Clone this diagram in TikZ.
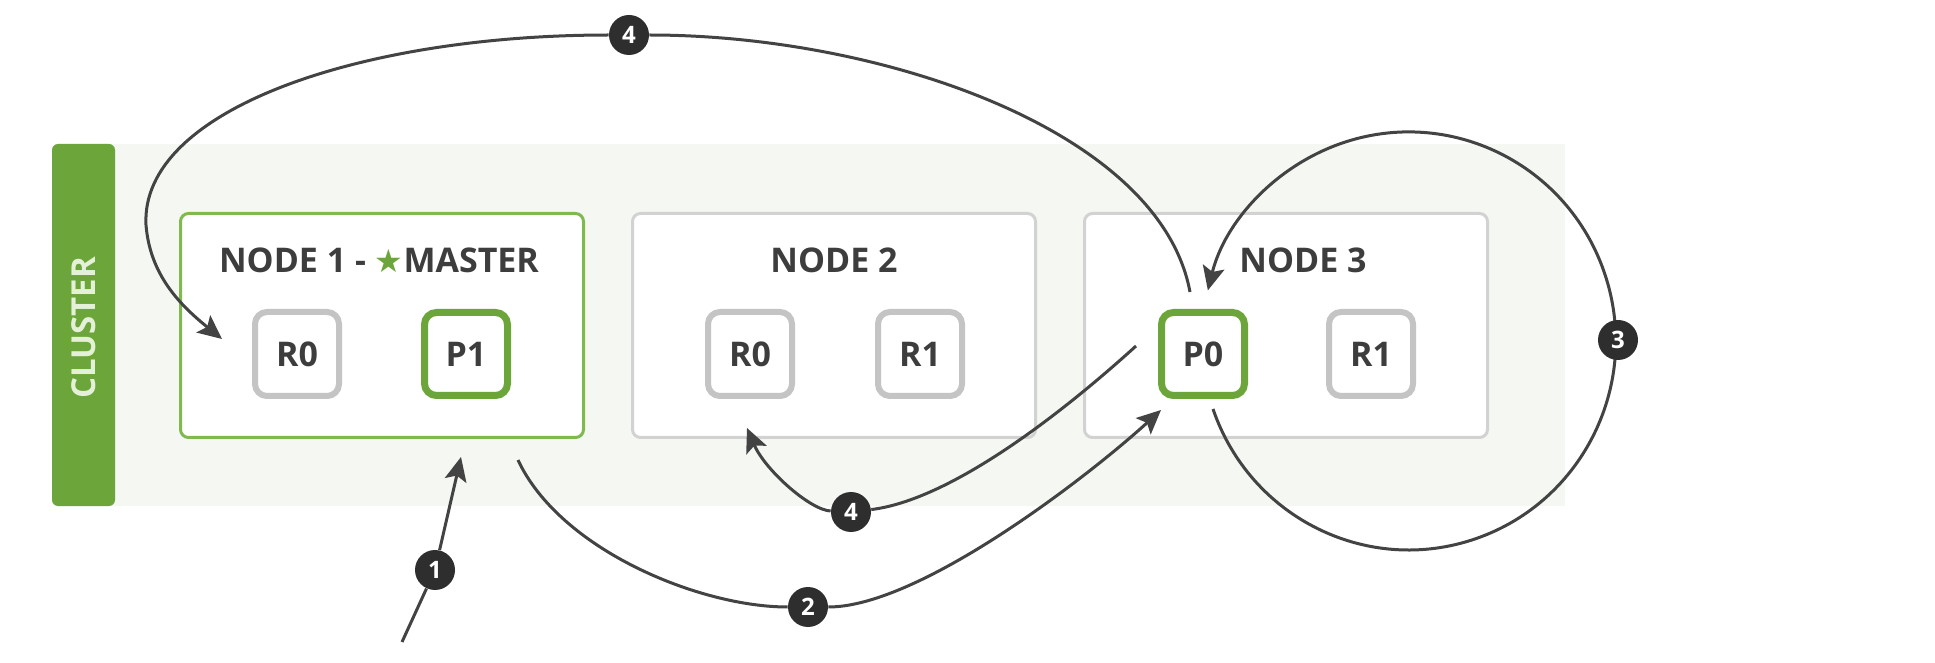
\documentclass[tikz,border=0pt]{standalone}
\usepackage{fontspec}
\setmainfont{Open Sans}
\newfontfamily\symfont{DejaVu Sans}
\usetikzlibrary{arrows.meta}
\definecolor{egreen}{HTML}{6CA63A}
\definecolor{ngreen}{HTML}{80BA4E}
\definecolor{txt}{HTML}{3D3D3D}
\definecolor{sgray}{HTML}{C4C4C4}
\definecolor{ngray}{HTML}{D2D2D2}
\definecolor{panel}{HTML}{F5F7F2}
\definecolor{conncol}{HTML}{434343}
\definecolor{badgecol}{HTML}{2E2E2E}
\definecolor{cltext}{HTML}{E4F0D8}
\begin{document}
\begin{tikzpicture}[x=0.5pt,y=-0.5pt,
  nodebox/.style={draw=ngray, line width=1.5pt, rounded corners=4pt, fill=white,
    minimum width=201.5pt, minimum height=112pt, inner sep=0pt},
  masterbox/.style={nodebox, draw=ngreen},
  titletext/.style={text=txt, font=\bfseries\fontsize{17}{17}\selectfont, inner sep=0pt},
  rshard/.style={draw=sgray, line width=3pt, rounded corners=6pt, fill=white,
    minimum size=42pt, inner sep=0pt, text=txt, font=\bfseries\fontsize{17}{17}\selectfont},
  pshard/.style={rshard, draw=egreen, line width=3.5pt, minimum size=41.5pt},
  badge/.style={circle, fill=badgecol, minimum size=20pt, inner sep=0pt, text=white,
    font=\bfseries\fontsize{12}{12}\selectfont},
  conn/.style={draw=conncol, line width=1.5pt,
    -{Stealth[length=12pt, width=11pt, inset=2.5pt]}},
  plain/.style={draw=conncol, line width=1.5pt}
]
\useasboundingbox[fill=white] (0,0) rectangle (1935,663);
% cluster panel
\fill[panel] (100,144) rectangle (1565,506);
\fill[egreen, rounded corners=3pt] (52,144) rectangle (115,506);
\node[rotate=90, text=cltext, font=\bfseries\fontsize{16.5}{17}\selectfont, inner sep=0pt] (cl) at (84,328) {CLUSTER};

% node boxes
\node[masterbox] (n1) at (382,325.5) {};
\node[nodebox] (n2) at (834,325.5) {};
\node[nodebox] (n3) at (1286,325.5) {};

\node[titletext] (t1) at (379,260) {NODE 1 - {\color{egreen}\symfont\fontsize{16}{16}\selectfont ★}MASTER};
\node[titletext] (t2) at (834,260) {NODE 2};
\node[titletext] (t3) at (1303,260) {NODE 3};

% shards
\node[rshard] (r0a) at (297,354) {R0};
\node[pshard] (p1)  at (466,354) {P1};
\node[rshard] (r0b) at (750,354) {R0};
\node[rshard] (r1b) at (920,354) {R1};
\node[pshard] (p0)  at (1203,354) {P0};
\node[rshard] (r1c) at (1371,354) {R1};

% free ends of connectors
\coordinate (c1s) at (402,642);
\coordinate (c1e) at (461,457);
\coordinate (c2s) at (518,460);
\coordinate (c2e) at (1161,410);
\coordinate (c3s) at (1213,409);
\coordinate (c4s) at (1190,292);
\coordinate (cL)  at (146,225);
\coordinate (c4e) at (222,339);
\coordinate (c5s) at (1136,346);
\coordinate (c5e) at (747,428);

% badges
\node[badge] (b1)  at (435,570) {1};
\node[badge] (b2)  at (808,607) {2};
\node[badge] (b4a) at (629,35)  {4};
\node[badge] (b4b) at (851,512) {4};

% connectors
\draw[conn] (c1s) -- (b1) -- (c1e);
\draw[conn] (c2s) .. controls (560,550) and (700,607) .. (b2)
                  .. controls (920,607) and (1090,475) .. (c2e);
\draw[conn] (c3s) arc[start angle=161, end angle=-166, x radius=207, y radius=209];
\node[badge] (b3) at (1618,340) {3};
\draw[plain] (c4s) .. controls (1160,130) and (880,35) .. (b4a);
\draw[conn] (b4a) .. controls (360,35) and (140,110) .. (cL)
                  .. controls (150,275) and (180,305) .. (c4e);
\draw[conn] (c5s) .. controls (1060,415) and (950,500) .. (b4b)
                  .. controls (810,510) and (765,470) .. (c5e);
\end{tikzpicture}
\end{document}
